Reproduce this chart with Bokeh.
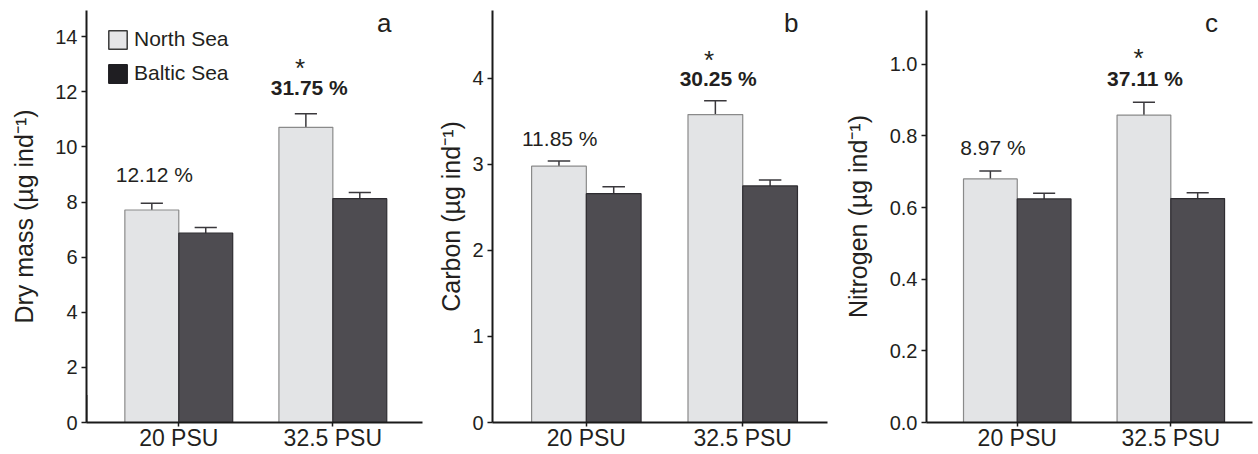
from bokeh.plotting import figure
from bokeh.layouts import row
from bokeh.models import Range1d, FixedTicker, Legend, LegendItem, Label, ColumnDataSource, PrintfTickFormatter
from bokeh.embed import file_html
from bokeh.resources import INLINE

# ---------------- data ----------------
categories = ["20 PSU", "32.5 PSU"]
series = ["North Sea", "Baltic Sea"]

dry_north = [7.71, 10.71]
dry_north_err = [0.25, 0.49]
dry_baltic = [6.87, 8.12]
dry_baltic_err = [0.21, 0.23]

carbon_north = [2.98, 3.58]
carbon_north_err = [0.06, 0.16]
carbon_baltic = [2.66, 2.75]
carbon_baltic_err = [0.08, 0.07]

nitrogen_north = [0.680, 0.858]
nitrogen_north_err = [0.022, 0.036]
nitrogen_baltic = [0.624, 0.625]
nitrogen_baltic_err = [0.016, 0.016]

pct_a = ["12.12 %", "31.75 %"]
pct_b = ["11.85 %", "30.25 %"]
pct_c = ["8.97 %", "37.11 %"]

yticks_a = [0, 2, 4, 6, 8, 10, 12, 14]
yticks_b = [0, 1, 2, 3, 4]
yticks_c = [0.0, 0.2, 0.4, 0.6, 0.8, 1.0]

# ---------------- style ----------------
FONT = "Liberation Sans"
TXT = "#231f20"
NORTH_FILL = "#e3e4e6"
NORTH_LINE = "#8a8a8a"
BALTIC_FILL = "#4e4c51"
BALTIC_LINE = "#2e2c31"
BAR_W = 0.35
CAP = 0.072
H = 453


def panel(width, bl, br, xs, xe, ye, north, north_err, baltic, baltic_err, yticks, ylabel,
          standoff, fmt, pcts, pct_pos, star_pos, letter, letter_pos, legend=False):
    p = figure(width=width, height=H, output_backend="svg", toolbar_location=None,
               x_range=Range1d(xs, xe), y_range=Range1d(0, ye),
               min_border_left=bl, min_border_right=br, min_border_top=10, min_border_bottom=31)
    p.outline_line_color = None
    p.grid.visible = False
    p.background_fill_color = "white"
    p.border_fill_color = "white"

    xc = [i + 1 for i in range(len(categories))]
    xn = [x - BAR_W / 2 for x in xc]
    xb = [x + BAR_W / 2 for x in xc]
    src = ColumnDataSource(dict(
        xn=xn, xb=xb, north=north, baltic=baltic,
        nt=[v + e for v, e in zip(north, north_err)],
        bt=[v + e for v, e in zip(baltic, baltic_err)],
        xn0=[x - CAP for x in xn], xn1=[x + CAP for x in xn],
        xb0=[x - CAP for x in xb], xb1=[x + CAP for x in xb],
    ))
    # error bars (upper only)
    for x, x0, x1, v, t in (("xn", "xn0", "xn1", "north", "nt"), ("xb", "xb0", "xb1", "baltic", "bt")):
        p.segment(x0=x, y0=v, x1=x, y1=t, source=src, line_color="#3a383c", line_width=1.5)
        p.segment(x0=x0, y0=t, x1=x1, y1=t, source=src, line_color="#3a383c", line_width=1.5)
    p.vbar(x="xn", top="north", width=BAR_W, bottom=0, source=src,
           fill_color=NORTH_FILL, line_color=NORTH_LINE, line_width=1.2)
    p.vbar(x="xb", top="baltic", width=BAR_W, bottom=0, source=src,
           fill_color=BALTIC_FILL, line_color=BALTIC_LINE, line_width=1.2)

    # axes
    p.xaxis.ticker = FixedTicker(ticks=xc)
    p.xaxis.major_label_overrides = {x: c for x, c in zip(xc, categories)}
    p.yaxis.ticker = FixedTicker(ticks=yticks)
    if fmt:
        p.yaxis.formatter = PrintfTickFormatter(format=fmt)
    for ax in (p.xaxis[0], p.yaxis[0]):
        ax.axis_line_width = 2
        ax.axis_line_color = "#1a1a1a"
        ax.major_tick_line_color = "#1a1a1a"
        ax.major_tick_line_width = 1.5
        ax.major_tick_in = 0
        ax.major_tick_out = 5
        ax.minor_tick_line_color = None
        ax.major_label_text_font = FONT
        ax.major_label_text_color = TXT
    p.xaxis.major_tick_out = 4
    p.xaxis.major_label_text_font_size = "23px"
    p.xaxis.major_label_standoff = -2
    p.yaxis.major_label_text_font_size = "20px"
    p.yaxis.major_label_standoff = 4
    p.yaxis.axis_label = ylabel
    p.yaxis.axis_label_text_font = FONT
    p.yaxis.axis_label_text_font_size = "25px"
    p.yaxis.axis_label_text_font_style = "normal"
    p.yaxis.axis_label_text_color = TXT
    p.yaxis.axis_label_standoff = standoff

    # percentage annotations
    p.add_layout(Label(x=pct_pos[0][0], y=pct_pos[0][1], text=pcts[0], text_align="center",
                       text_baseline="alphabetic", text_font=FONT, text_font_size="21px",
                       text_color=TXT))
    p.add_layout(Label(x=pct_pos[1][0], y=pct_pos[1][1], text=pcts[1], text_align="center",
                       text_baseline="alphabetic", text_font=FONT, text_font_size="21px",
                       text_font_style="bold", text_color=TXT))
    p.add_layout(Label(x=star_pos[0], y=star_pos[1], text="*", text_align="center",
                       text_baseline="alphabetic", text_font=FONT, text_font_size="26px",
                       text_color=TXT))
    p.add_layout(Label(x=letter_pos[0], y=letter_pos[1], text=letter, text_align="center",
                       text_baseline="alphabetic", text_font=FONT, text_font_size="26px",
                       text_color=TXT))

    if legend:
        gn = p.vbar(x=[-10], top=[1], width=BAR_W, fill_color="#e5e5e7", line_color="#3a3a3a", line_width=1.5)
        gb = p.vbar(x=[-10], top=[1], width=BAR_W, fill_color="#1f1e22", line_color="#1f1e22", line_width=1.5)
        lg = Legend(items=[LegendItem(label=series[0], renderers=[gn]),
                           LegendItem(label=series[1], renderers=[gb])],
                    location=(20, 337), padding=0, margin=0, spacing=10,
                    glyph_width=23, glyph_height=23, label_standoff=5,
                    label_text_font=FONT, label_text_font_size="21px", label_text_color=TXT,
                    border_line_color=None, background_fill_alpha=0)
        p.add_layout(lg)
    return p


pa = panel(423, 86, 1, 0.401, 2.582, 14.95, dry_north, dry_north_err, dry_baltic, dry_baltic_err,
           yticks_a, "Dry mass (µg ind⁻¹)", 14, None, pct_a,
           [(0.841, 9.00), (1.847, 12.15)], (1.788, 12.88), "a", (2.334, 14.50), legend=True)
pb = panel(417, 69, 13, 0.40, 2.542, 4.79, carbon_north, carbon_north_err, carbon_baltic, carbon_baltic_err,
           yticks_b, "Carbon (µg ind⁻¹)", 4, None, pct_b,
           [(0.830, 3.30), (1.843, 4.00)], (1.784, 4.22), "b", (2.310, 4.647))
pc = panel(416, 85, 4, 0.409, 2.532, 1.15, nitrogen_north, nitrogen_north_err, nitrogen_baltic, nitrogen_baltic_err,
           yticks_c, "Nitrogen (µg ind⁻¹)", 15, "%.1f", pct_c,
           [(0.842, 0.767), (1.832, 0.960)], (1.790, 1.017), "c", (2.265, 1.115))

layout = row(pa, pb, pc, spacing=0)
open("out.html", "w").write(file_html(layout, INLINE))
